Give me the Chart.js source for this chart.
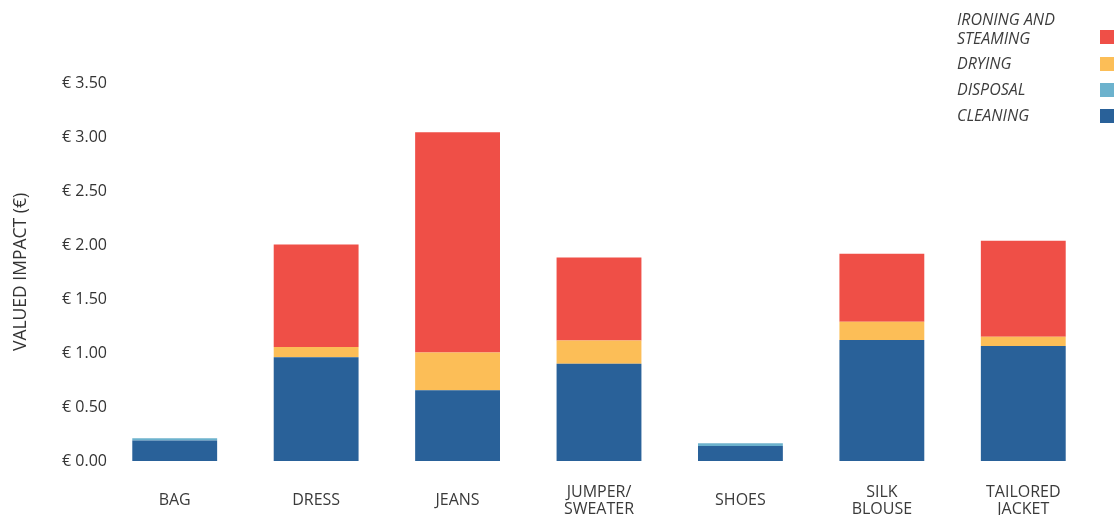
<!DOCTYPE html>
<html>
<head>
<meta charset="utf-8">
<script src="https://cdn.jsdelivr.net/npm/chart.js@4.4.1/dist/chart.umd.min.js"></script>
<style>
  html, body { margin: 0; padding: 0; background: #ffffff; }
  #wrap { position: relative; width: 1117px; height: 515px; }
  #legend { position: absolute; left: 0; top: 0; width: 1117px; height: 140px; pointer-events: none;
    font-family: "Open Sans", "Noto Sans", sans-serif; font-style: italic; font-size: 16px; color: #3d3d3d; }
  .lg-text { position: absolute; left: 957px; line-height: 19px; }
  .lg-box { position: absolute; left: 1100px; width: 14px; height: 14px; }
</style>
</head>
<body>
<div id="wrap">
  <canvas id="c" width="1117" height="515"></canvas>
  <div id="legend"></div>
</div>
<script>
const categories = ['BAG', 'DRESS', 'JEANS', ['JUMPER/', 'SWEATER'], 'SHOES', ['SILK', 'BLOUSE'], ['TAILORED', 'JACKET']];
const cleaning = [0.19, 0.96, 0.655, 0.90, 0.14, 1.12, 1.065];
const disposal = [0.02, 0, 0, 0, 0.025, 0, 0];
const drying   = [0, 0.095, 0.35, 0.215, 0, 0.17, 0.085];
const ironing  = [0, 0.95, 2.04, 0.77, 0, 0.63, 0.89];
const yTickLabels = ['€ 0.00', '€ 0.50', '€ 1.00', '€ 1.50', '€ 2.00', '€ 2.50', '€ 3.00', '€ 3.50'];
const seriesNames = ['CLEANING', 'DISPOSAL', 'DRYING', 'IRONING AND STEAMING'];
const legendLabels = [['IRONING AND', 'STEAMING'], ['DRYING'], ['DISPOSAL'], ['CLEANING']];
const yTitle = 'VALUED IMPACT (€)';

const colors = { cleaning: '#296199', disposal: '#6cb2cd', drying: '#fcbe57', ironing: '#ef4f47' };

const datasets = [
  { label: seriesNames[0], data: cleaning, backgroundColor: colors.cleaning },
  { label: seriesNames[1], data: disposal, backgroundColor: colors.disposal },
  { label: seriesNames[2], data: drying, backgroundColor: colors.drying },
  { label: seriesNames[3], data: ironing, backgroundColor: colors.ironing }
];

// HTML legend (text left, swatch right)
const legendEl = document.getElementById('legend');
const legendColors = [colors.ironing, colors.drying, colors.disposal, colors.cleaning];
const textTops = [10, 54, 80, 106];
const boxTops = [30, 57, 83, 109];
legendLabels.forEach((lines, i) => {
  const t = document.createElement('div');
  t.className = 'lg-text';
  t.style.top = textTops[i] + 'px';
  t.innerHTML = lines.join('<br>');
  legendEl.appendChild(t);
  const b = document.createElement('div');
  b.className = 'lg-box';
  b.style.top = boxTops[i] + 'px';
  b.style.background = legendColors[i];
  legendEl.appendChild(b);
});

new Chart(document.getElementById('c'), {
  type: 'bar',
  data: { labels: categories, datasets: datasets },
  options: {
    responsive: false,
    animation: false,
    layout: { padding: { top: 83, right: 23, bottom: 0, left: 0 } },
    datasets: { bar: { barPercentage: 0.6, categoryPercentage: 1.0, borderWidth: 0 } },
    plugins: { legend: { display: false }, tooltip: { enabled: false } },
    scales: {
      x: {
        stacked: true,
        grid: { display: false, drawTicks: false },
        border: { display: false },
        ticks: {
          color: '#3a3a3a',
          padding: 31,
          crossAlign: 'center',
          maxRotation: 0,
          autoSkip: false,
          font: { family: "'Open Sans', 'Noto Sans', sans-serif", size: 16, lineHeight: '17px' }
        },
        afterFit: (s) => { s.height = 54; }
      },
      y: {
        stacked: true,
        min: 0,
        max: 3.5,
        grid: { display: false, drawTicks: false },
        border: { display: false },
        ticks: {
          stepSize: 0.5,
          mirror: true,
          padding: -42,
          color: '#333333',
          font: { family: "'Open Sans', 'Noto Sans', sans-serif", size: 16 },
          callback: (v, i) => yTickLabels[i]
        },
        title: {
          display: true,
          text: yTitle,
          color: '#333333',
          padding: { top: 10.5, bottom: 0 },
          font: { family: "'Open Sans', 'Noto Sans', sans-serif", size: 17.5 }
        },
        afterFit: (s) => { s.width = 104; }
      }
    }
  }
});
</script>
</body>
</html>
